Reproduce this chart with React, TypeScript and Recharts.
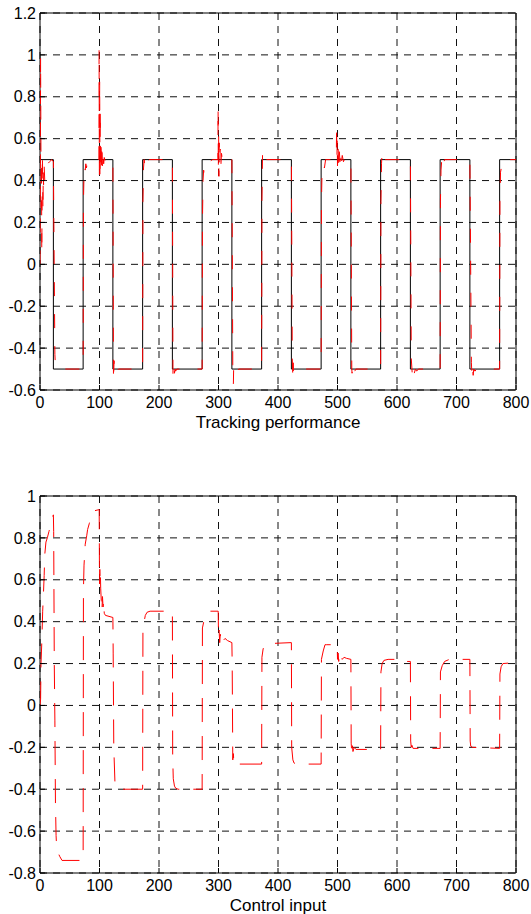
import {
  LineChart,
  Line,
  XAxis,
  YAxis,
  CartesianGrid,
  ReferenceArea,
} from 'recharts';

const TIME_TICKS = [0, 100, 200, 300, 400, 500, 600, 700, 800];
const TRACK_TICKS = [-0.6, -0.4, -0.2, 0, 0.2, 0.4, 0.6, 0.8, 1, 1.2];
const CONTROL_TICKS = [-0.8, -0.6, -0.4, -0.2, 0, 0.2, 0.4, 0.6, 0.8, 1];

// reference square wave: switching instants and the level held after each one
const refTimes = [0, 22.5, 72.5, 122.5, 172.5, 222.5, 272.5, 322.5, 372.5, 422.5, 472.5, 522.5, 572.5, 622.5, 672.5, 722.5, 772.5, 800];
const refLevels = [0.5, -0.5, 0.5, -0.5, 0.5, -0.5, 0.5, -0.5, 0.5, -0.5, 0.5, -0.5, 0.5, -0.5, 0.5, -0.5, 0.5, 0.5];

// plant output [t, y]
const trackingOutput: [number, number][] = [
  [0, 0], [0.5, 0.3], [1, 0.99], [1.5, 0.6], [2, 0.27], [2.5, 0.5], [3, 0.05], [3.5, 0.3], [4, 0.53],
  [5, 0.25], [5.5, 0.45], [6, 0.38], [7, 0.47], [8, 0.4], [9, 0.45], [11, 0.46], [13, 0.48], [16, 0.49],
  [20, 0.5], [22.5, 0.49], [25, -0.43], [26, -0.49], [28, -0.5], [72.5, -0.5],
  [73, 0.3], [74, 0.43], [75, 0.47], [76, 0.45], [77, 0.48], [78, 0.46], [80, 0.49], [84, 0.48], [88, 0.5],
  [99, 0.5], [99.3, 1.03], [99.8, 0.42], [100.3, 0.88], [100.8, 0.4], [101.3, 0.74], [101.8, 0.45],
  [102.5, 0.6], [103, 0.44], [104, 0.58], [105, 0.47], [106, 0.53], [107, 0.48], [108, 0.51], [110, 0.49],
  [112, 0.5], [122.5, 0.5],
  [123.5, -0.56], [124.5, -0.46], [125, -0.52], [127, -0.5], [129, -0.51], [132, -0.5], [172.5, -0.5],
  [173, 0.3], [174, 0.46], [175, 0.5], [176, 0.47], [177, 0.5], [178, 0.48], [180, 0.49], [184, 0.5], [222.5, 0.5],
  [223.5, -0.53], [225, -0.48], [226, -0.52], [227, -0.5], [228, -0.51], [230, -0.5], [272.5, -0.5],
  [273, 0.2], [274, 0.4], [275, 0.45], [276, 0.43], [278, 0.47], [280, 0.48], [284, 0.49], [290, 0.5],
  [299, 0.5], [299.3, 0.75], [299.7, 0.45], [300.2, 0.62], [300.7, 0.42], [301.2, 0.58], [302, 0.48],
  [303, 0.55], [304, 0.47], [305, 0.53], [307, 0.49], [309, 0.51], [312, 0.5], [322.5, 0.5],
  [324, -0.48], [325, -0.57], [325.5, -0.49], [327, -0.51], [329, -0.5], [332, -0.52], [334, -0.5], [372.5, -0.5],
  [373, 0.3], [374, 0.52], [375, 0.47], [376, 0.49], [378, 0.5], [422.5, 0.5],
  [424, -0.45], [425, -0.55], [425.5, -0.47], [426, -0.52], [428, -0.5], [472.5, -0.5],
  [473, 0.3], [474, 0.44], [476, 0.48], [478, 0.46], [480, 0.5], [498, 0.5], [498.5, 0.67], [499, 0.5],
  [499.5, 0.6], [500, 0.47], [501, 0.56], [502, 0.48], [503, 0.55], [504, 0.49], [505, 0.53], [506, 0.48],
  [508, 0.52], [510, 0.49], [513, 0.51], [516, 0.5], [522.5, 0.5],
  [524, -0.5], [524.5, -0.52], [525, -0.49], [526, -0.52], [527, -0.5], [529, -0.51], [531, -0.5], [572.5, -0.5],
  [573, 0.3], [574, 0.48], [575, 0.54], [575.5, 0.5], [622.5, 0.5],
  [624, -0.45], [626, -0.54], [627, -0.5], [629, -0.52], [631, -0.5], [633, -0.51], [636, -0.5], [672.5, -0.5],
  [673, 0.3], [674, 0.45], [675, 0.49], [676, 0.47], [677, 0.5], [678, 0.48], [680, 0.5], [722.5, 0.5],
  [725, -0.47], [726, -0.53], [727, -0.49], [728, -0.53], [729, -0.5], [731, -0.51], [734, -0.5], [772.5, -0.5],
  [773, 0.3], [774, 0.44], [776, 0.47], [777, 0.46], [779, 0.48], [782, 0.49], [786, 0.5], [800, 0.5],
];

// control signal [t, u]
const controlInput: [number, number][] = [
  [0, 0], [1, 0.03], [1.7, 0.2], [3, 0.3], [4.5, 0.45], [5.6, 0.52], [7, 0.62], [8, 0.72], [10, 0.78],
  [12.3, 0.8], [15, 0.83], [18, 0.86], [20, 0.89], [22.5, 0.91],
  [23, 0.83], [24, 0.2], [25, -0.07], [26, -0.47], [27, -0.62], [28, -0.68], [30, -0.7], [33, -0.72], [37, -0.74], [72.5, -0.74],
  [73, 0.55], [74, 0.67], [76, 0.77], [78.5, 0.81], [80, 0.84], [83, 0.87], [87, 0.92], [92, 0.93], [99.5, 0.935],
  [100, 0.58], [100.5, 0.65], [101, 0.6], [101.5, 0.63], [102, 0.56], [103, 0.5], [104, 0.45], [105, 0.52],
  [106, 0.47], [107, 0.5], [108, 0.44], [110, 0.43], [122.5, 0.42],
  [123, 0.25], [124, -0.2], [126, -0.37], [128, -0.39], [130, -0.4], [172.5, -0.4],
  [173, 0.37], [175, 0.4], [177, 0.43], [180, 0.445], [185, 0.45], [222.5, 0.45],
  [223, -0.25], [224, -0.35], [226, -0.385], [228, -0.395], [232, -0.4], [272.5, -0.4],
  [273, 0.37], [276, 0.41], [280, 0.44], [284, 0.45], [299.5, 0.45],
  [300, 0.33], [301, 0.36], [302, 0.3], [303, 0.34], [304, 0.31], [306, 0.33], [308, 0.31], [311, 0.32], [315, 0.31], [322.5, 0.3],
  [323, 0.2], [324, -0.26], [325, -0.23], [326, -0.28], [328, -0.27], [332, -0.28], [372.5, -0.28],
  [373, 0.23], [375, 0.27], [378, 0.29], [382, 0.295], [422.5, 0.3],
  [423, -0.2], [425, -0.26], [427, -0.275], [430, -0.28], [472.5, -0.28],
  [473, 0.22], [476, 0.26], [479, 0.29], [482, 0.29], [499.5, 0.29],
  [500, 0.22], [501, 0.25], [502, 0.21], [503, 0.24], [504, 0.22], [506, 0.235], [508, 0.22], [511, 0.23], [515, 0.225], [522.5, 0.22],
  [523, -0.18], [524, -0.23], [525, -0.19], [526, -0.22], [528, -0.2], [531, -0.21], [572.5, -0.21],
  [573, 0.16], [575, 0.2], [578, 0.215], [585, 0.22], [605, 0.22], [607, 0.21], [622.5, 0.21],
  [623, -0.17], [624, -0.2], [625, -0.19], [627, -0.205], [672.5, -0.205],
  [673, 0.16], [676, 0.19], [680, 0.21], [688, 0.22], [722.5, 0.22],
  [723, -0.17], [724, -0.195], [727, -0.2], [772.5, -0.205],
  [773, 0.15], [775, 0.185], [778, 0.2], [800, 0.205],
];

const FONT = 'Arial, "Liberation Sans", Helvetica, sans-serif';
const tickStyle = { fill: '#000', fontSize: 16, fontFamily: FONT };

const toRows = (pts: [number, number][]) => pts.map(([t, y]) => ({ t, y }));

const refData = refTimes.map((t, i) => ({ t, y: refLevels[i] }));
const trackData = toRows(trackingOutput);
const controlData = toRows(controlInput);

function Panel({
  height,
  top,
  bottom,
  yDomain,
  yTicks,
  title,
  labelOffset,
  xAxisHeight,
  children,
}: {
  height: number;
  top: number;
  bottom: number;
  yDomain: [number, number];
  yTicks: number[];
  title: string;
  labelOffset: number;
  xAxisHeight: number;
  children: React.ReactNode;
}) {
  return (
    <LineChart width={531} height={height} margin={{ top, right: 15, bottom, left: 0 }}>
      <CartesianGrid stroke="#111" strokeDasharray="7 6" />
      <XAxis
        type="number"
        dataKey="t"
        domain={[0, 800]}
        ticks={TIME_TICKS}
        allowDataOverflow
        height={xAxisHeight}
        axisLine={false}
        tickLine={{ stroke: '#000' }}
        tickSize={-5}
        tickMargin={12}
        tick={tickStyle}
        interval={0}
        label={{ value: title, position: 'insideBottom', offset: labelOffset, fill: '#000', fontSize: 17, fontFamily: FONT }}
      />
      <YAxis
        type="number"
        domain={yDomain}
        ticks={yTicks}
        allowDataOverflow
        width={40}
        axisLine={false}
        tickLine={{ stroke: '#000' }}
        tickSize={-5}
        tickMargin={9}
        tick={tickStyle}
        interval={0}
      />
      {children}
      <ReferenceArea
        x1={0}
        x2={800}
        y1={yDomain[0]}
        y2={yDomain[1]}
        fill="none"
        stroke="#000"
        strokeWidth={1}
        ifOverflow="visible"
      />
    </LineChart>
  );
}

export default function App() {
  return (
    <div style={{ position: 'absolute', left: 0, top: 0, width: 531, height: 914, background: '#fff' }}>
      <Panel height={436} top={13} bottom={6} yDomain={[-0.6, 1.2]} yTicks={TRACK_TICKS} title="Tracking performance" labelOffset={2} xAxisHeight={40}>
        <Line
          data={refData}
          dataKey="y"
          type="stepAfter"
          stroke="#000"
          strokeWidth={1}
          dot={false}
          activeDot={false}
          isAnimationActive={false}
        />
        <Line
          data={trackData}
          dataKey="y"
          type="linear"
          stroke="#ff0000"
          strokeWidth={1}
          strokeDasharray="14 18"
          dot={false}
          activeDot={false}
          isAnimationActive={false}
        />
      </Panel>
      <Panel height={478} top={60} bottom={0} yDomain={[-0.8, 1]} yTicks={CONTROL_TICKS} title="Control input" labelOffset={3} xAxisHeight={41}>
        <Line
          data={controlData}
          dataKey="y"
          type="linear"
          stroke="#ff0000"
          strokeWidth={1}
          strokeDasharray="24 14"
          dot={false}
          activeDot={false}
          isAnimationActive={false}
        />
      </Panel>
    </div>
  );
}
